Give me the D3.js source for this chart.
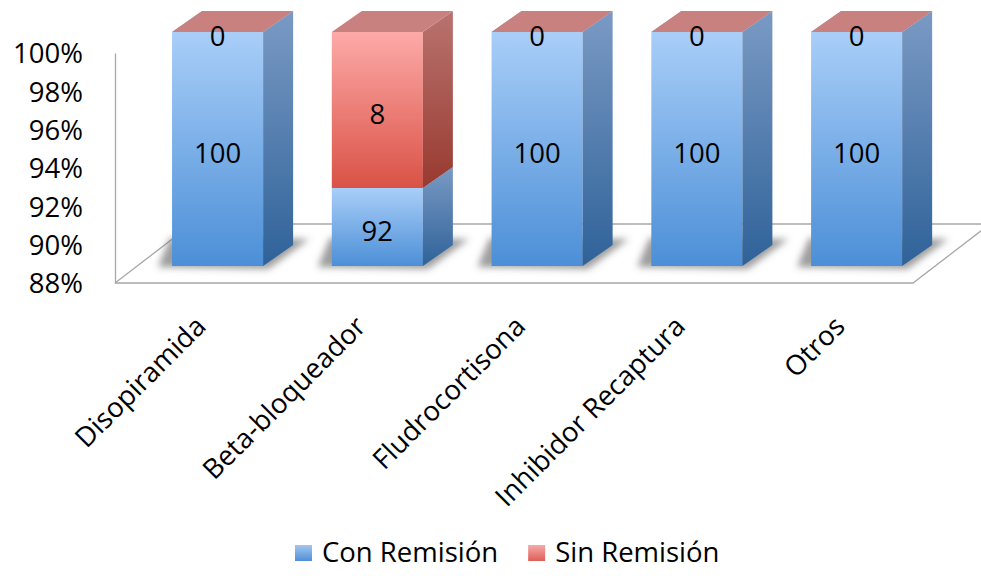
<!DOCTYPE html>
<html>
<head>
<meta charset="utf-8">
<script src="https://cdn.jsdelivr.net/npm/d3@7/dist/d3.min.js"></script>
<style>
  html, body { margin: 0; padding: 0; background: #fff; }
  svg { display: block; font-family: "Open Sans", "Liberation Sans", sans-serif; }
</style>
</head>
<body>
<svg id="chart" width="981" height="576"></svg>
<script>
// ---- data ----
const categories = ["Disopiramida", "Beta-bloqueador", "Fludrocortisona", "Inhibidor Recaptura", "Otros"];
const conRemision = [100, 92, 100, 100, 100];
const sinRemision = [0, 8, 0, 0, 0];
const seriesNames = ["Con Remisión", "Sin Remisión"];
const yTicks = [0.88, 0.90, 0.92, 0.94, 0.96, 0.98, 1.00];

// ---- layout ----
const W = 981, H = 576;
const axisX = 115;
const depthX = 30, depthY = -21;          // bar depth offset
const floorDX = 77, floorDY = -59;        // floor depth
const fontSize = 27.5;

const svg = d3.select("#chart");
const defs = svg.append("defs");

function vGrad(id, top, bottom) {
  const g = defs.append("linearGradient").attr("id", id)
    .attr("x1", 0).attr("y1", 0).attr("x2", 0).attr("y2", 1);
  g.append("stop").attr("offset", "0%").attr("stop-color", top);
  g.append("stop").attr("offset", "100%").attr("stop-color", bottom);
}
vGrad("blueFront", "#a9cef8", "#4c8fd7");
vGrad("blueSide", "#7a9ac4", "#2f6299");
vGrad("redFront", "#fdaaa8", "#da5246");
vGrad("redSide", "#b9736f", "#983a30");
vGrad("blueLeg", "#a3c6f0", "#4f8fd6");
vGrad("redLeg", "#f6aaa8", "#de5e57");

const shadowF = defs.append("filter").attr("id", "shadowBlur")
  .attr("x", "-50%").attr("y", "-50%").attr("width", "200%").attr("height", "200%");
shadowF.append("feGaussianBlur").attr("stdDeviation", 3.5);

const styles = [
  { front: "url(#blueFront)", side: "url(#blueSide)", top: "#8fb3e0", leg: "url(#blueLeg)" },
  { front: "url(#redFront)", side: "url(#redSide)", top: "#c8817e", leg: "url(#redLeg)" }
];

// ---- scales ----
const x = d3.scaleBand().domain(categories).range([137.7, 936.5])
  .paddingInner(0.43).paddingOuter(0.215);
const yAxisScale = d3.scaleLinear().domain([0.88, 1]).range([283, 53]);
const yBar = d3.scaleLinear().domain([0.88, 1]).range([266, 32]).clamp(true);

// ---- floor ----
const fy = yAxisScale(0.88);
const fx0 = axisX, fx1 = 913;
const floorG = svg.append("g").attr("stroke", "#a8a8a8").attr("stroke-width", 1.3).attr("fill", "none");
floorG.append("path").attr("d", d3.line()([[fx0, fy], [fx1, fy], [fx1 + floorDX, fy + floorDY], [fx0 + floorDX, fy + floorDY], [fx0, fy]]));

// ---- y axis ----
const yAxis = d3.axisLeft(yAxisScale).tickValues(yTicks).tickFormat(d3.format(".0%"))
  .tickSize(0).tickPadding(32);
const yG = svg.append("g").attr("transform", `translate(${axisX},0)`).call(yAxis);
yG.select(".domain").attr("stroke", "#a8a8a8").attr("stroke-width", 1.3);
yG.selectAll("text").attr("font-size", fontSize).attr("fill", "#000")
  .attr("font-family", "'Open Sans', sans-serif").attr("dy", "0.36em");

// ---- stacked data ----
const rows = categories.map((c, i) => ({ cat: c, "Con Remisión": conRemision[i] / 100, "Sin Remisión": sinRemision[i] / 100 }));
const stacked = d3.stack().keys(seriesNames)(rows);

// ---- shadows ----
const shG = svg.append("g").attr("filter", "url(#shadowBlur)");
categories.forEach(c => {
  const x0 = x(c), x1 = x(c) + x.bandwidth(), yb = yBar(0.88);
  shG.append("path")
    .attr("d", d3.line()([[x0 - 14, yb + 1], [x1 + 5, yb + 3], [x1 + depthX + 16, yb + depthY - 6], [x0 - 2, yb + depthY - 7]]) + "Z")
    .attr("fill", "#5a5a5a").attr("opacity", 0.6);
});

// ---- bars ----
const barsG = svg.append("g");
categories.forEach((c, i) => {
  const x0 = x(c), x1 = x(c) + x.bandwidth();
  const g = barsG.append("g");
  stacked.forEach((s, k) => {
    const d = s[i];
    const yt = yBar(d[1]), yb = yBar(d[0]);
    const st = styles[k];
    if (yb - yt > 0) {
      g.append("rect").attr("x", x0).attr("y", yt).attr("width", x1 - x0).attr("height", yb - yt)
        .attr("fill", st.front);
      g.append("path").attr("d", d3.line()([[x1, yt], [x1 + depthX, yt + depthY], [x1 + depthX, yb + depthY], [x1, yb]]) + "Z")
        .attr("fill", st.side);
    }
    g.append("path").attr("d", d3.line()([[x0, yt], [x0 + depthX, yt + depthY], [x1 + depthX, yt + depthY], [x1, yt]]) + "Z")
      .attr("fill", st.top);
  });
});

// ---- data labels ----
const lblG = svg.append("g").attr("font-size", fontSize).attr("fill", "#000").attr("text-anchor", "middle");
stacked.forEach((s, k) => {
  s.forEach((d, i) => {
    const val = k === 0 ? conRemision[i] : sinRemision[i];
    const mid = (yBar(d[0]) + yBar(d[1])) / 2;
    lblG.append("text")
      .attr("x", x(categories[i]) + x.bandwidth() / 2)
      .attr("y", mid + 4)
      .attr("dy", "0.36em")
      .text(val);
  });
});

// ---- category labels ----
const catG = svg.append("g").attr("font-size", fontSize).attr("fill", "#000").attr("text-anchor", "end");
categories.forEach(c => {
  const cx = x(c) + x.bandwidth() / 2 - 10, cy = 328;
  catG.append("text").attr("transform", `translate(${cx},${cy}) rotate(-45)`).text(c);
});

// ---- legend ----
const legG = svg.append("g").attr("font-size", fontSize).attr("fill", "#000");
let lx = 295;
seriesNames.forEach((name, k) => {
  legG.append("rect").attr("x", lx).attr("y", 545).attr("width", 17).attr("height", 16).attr("fill", styles[k].leg);
  const t = legG.append("text").attr("x", lx + 27).attr("y", 562).text(name);
  lx = lx + 27 + t.node().getComputedTextLength() + 30;
});
</script>
</body>
</html>
